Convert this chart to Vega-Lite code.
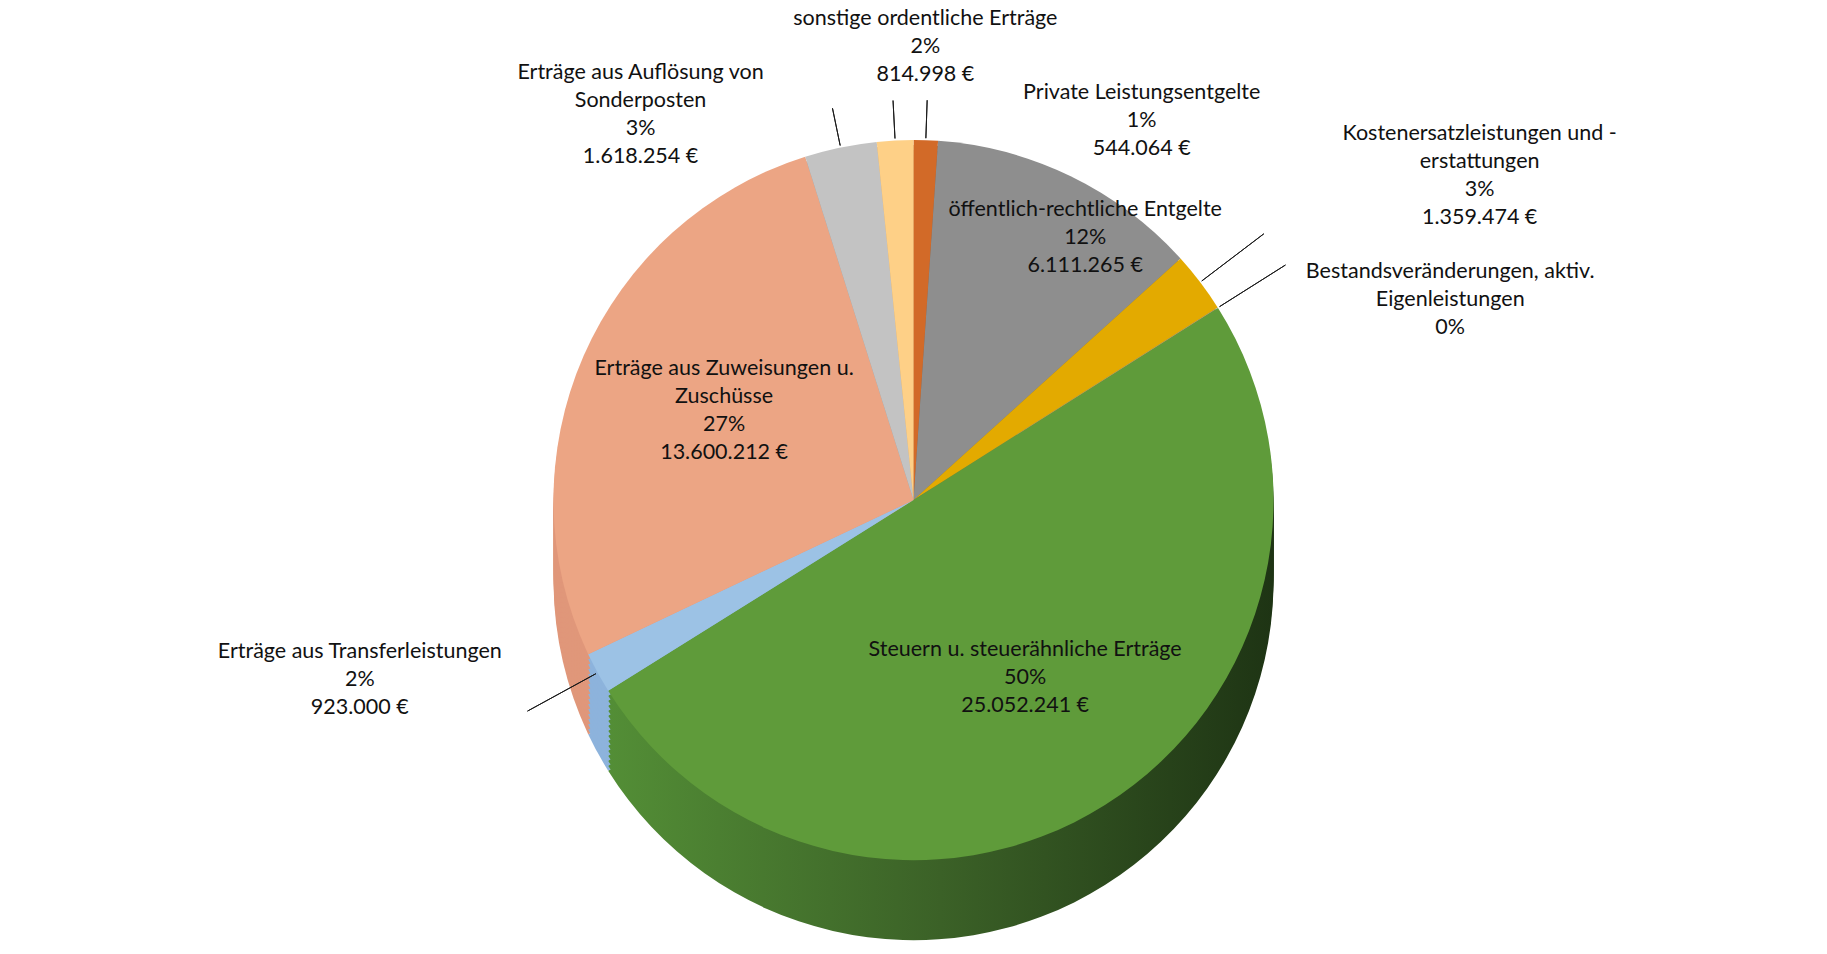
{
  "$schema": "https://vega.github.io/schema/vega-lite/v6.json",
  "width": 1827,
  "height": 908,
  "autosize": {"type": "none"},
  "padding": {"top": 46, "left": 0, "right": 0, "bottom": 0},
  "background": "#ffffff",
  "config": {"view": {"stroke": null}, "text": {"font": "Lato", "fontSize": 21.5, "lineHeight": 28, "lineBreak": "\n", "align": "center", "baseline": "middle", "color": "#111111"}},
  "data": {
    "values": [
      {"idx": 1, "cat": "Private Leistungsentgelte", "value": 544064, "label": "Private Leistungsentgelte\n1%\n544.064 €"},
      {"idx": 2, "cat": "öffentlich-rechtliche Entgelte", "value": 6111265, "label": "öffentlich-rechtliche Entgelte\n12%\n6.111.265 €"},
      {"idx": 3, "cat": "Kostenersatzleistungen und -erstattungen", "value": 1359474, "label": "Kostenersatzleistungen und -\nerstattungen\n3%\n1.359.474 €"},
      {"idx": 4, "cat": "Bestandsveränderungen, aktiv. Eigenleistungen", "value": 15000, "label": "Bestandsveränderungen, aktiv.\nEigenleistungen\n0%"},
      {"idx": 5, "cat": "Steuern u. steuerähnliche Erträge", "value": 25052241, "label": "Steuern u. steuerähnliche Erträge\n50%\n25.052.241 €"},
      {"idx": 6, "cat": "Erträge aus Transferleistungen", "value": 923000, "label": "Erträge aus Transferleistungen\n2%\n923.000 €"},
      {"idx": 7, "cat": "Erträge aus Zuweisungen u. Zuschüsse", "value": 13600212, "label": "Erträge aus Zuweisungen u.\nZuschüsse\n27%\n13.600.212 €"},
      {"idx": 8, "cat": "Erträge aus Auflösung von Sonderposten", "value": 1618254, "label": "Erträge aus Auflösung von\nSonderposten\n3%\n1.618.254 €"},
      {"idx": 9, "cat": "sonstige ordentliche Erträge", "value": 814998, "label": "sonstige ordentliche Erträge\n2%\n814.998 €"}
    ]
  },
  "encoding": {
    "theta": {"field": "value", "type": "quantitative", "stack": true},
    "order": {"field": "idx", "type": "quantitative"},
    "detail": {"field": "cat", "type": "nominal"}
  },
  "layer": [
    {
      "mark": {"type": "arc", "outerRadius": 360, "yOffset": 80, "strokeWidth": 0},
      "encoding": {
        "fill": {
          "field": "cat", "type": "nominal", "legend": null,
          "condition": {"test": "datum.idx === 5", "value": {"gradient": "linear", "x1": 0, "x2": 1, "y1": 0, "y2": 0, "stops": [{"offset": 0, "color": "#538E36"}, {"offset": 0.5, "color": "#3B6127"}, {"offset": 1, "color": "#1E3414"}]}},
          "scale": {
            "domain": ["Private Leistungsentgelte", "öffentlich-rechtliche Entgelte", "Kostenersatzleistungen und -erstattungen", "Bestandsveränderungen, aktiv. Eigenleistungen", "Steuern u. steuerähnliche Erträge", "Erträge aus Transferleistungen", "Erträge aus Zuweisungen u. Zuschüsse", "Erträge aus Auflösung von Sonderposten", "sonstige ordentliche Erträge"],
            "range": ["#A85420", "#6E6E6E", "#B38600", "#858585", "#3F6A27", "#8DB3DC", "#E0977A", "#9C9C9C", "#D9AE6E"]
          }
        }
      }
    },
    {"mark": {"type": "arc", "outerRadius": 360, "yOffset": 75, "strokeWidth": 0}, "encoding": {"fill": {"field": "cat", "type": "nominal", "legend": null, "condition": {"test": "datum.idx === 5", "value": {"gradient": "linear", "x1": 0, "x2": 1, "y1": 0, "y2": 0, "stops": [{"offset": 0, "color": "#538E36"}, {"offset": 0.5, "color": "#3B6127"}, {"offset": 1, "color": "#1E3414"}]}}}}},
    {"mark": {"type": "arc", "outerRadius": 360, "yOffset": 70, "strokeWidth": 0}, "encoding": {"fill": {"field": "cat", "type": "nominal", "legend": null, "condition": {"test": "datum.idx === 5", "value": {"gradient": "linear", "x1": 0, "x2": 1, "y1": 0, "y2": 0, "stops": [{"offset": 0, "color": "#538E36"}, {"offset": 0.5, "color": "#3B6127"}, {"offset": 1, "color": "#1E3414"}]}}}}},
    {"mark": {"type": "arc", "outerRadius": 360, "yOffset": 65, "strokeWidth": 0}, "encoding": {"fill": {"field": "cat", "type": "nominal", "legend": null, "condition": {"test": "datum.idx === 5", "value": {"gradient": "linear", "x1": 0, "x2": 1, "y1": 0, "y2": 0, "stops": [{"offset": 0, "color": "#538E36"}, {"offset": 0.5, "color": "#3B6127"}, {"offset": 1, "color": "#1E3414"}]}}}}},
    {"mark": {"type": "arc", "outerRadius": 360, "yOffset": 60, "strokeWidth": 0}, "encoding": {"fill": {"field": "cat", "type": "nominal", "legend": null, "condition": {"test": "datum.idx === 5", "value": {"gradient": "linear", "x1": 0, "x2": 1, "y1": 0, "y2": 0, "stops": [{"offset": 0, "color": "#538E36"}, {"offset": 0.5, "color": "#3B6127"}, {"offset": 1, "color": "#1E3414"}]}}}}},
    {"mark": {"type": "arc", "outerRadius": 360, "yOffset": 55, "strokeWidth": 0}, "encoding": {"fill": {"field": "cat", "type": "nominal", "legend": null, "condition": {"test": "datum.idx === 5", "value": {"gradient": "linear", "x1": 0, "x2": 1, "y1": 0, "y2": 0, "stops": [{"offset": 0, "color": "#538E36"}, {"offset": 0.5, "color": "#3B6127"}, {"offset": 1, "color": "#1E3414"}]}}}}},
    {"mark": {"type": "arc", "outerRadius": 360, "yOffset": 50, "strokeWidth": 0}, "encoding": {"fill": {"field": "cat", "type": "nominal", "legend": null, "condition": {"test": "datum.idx === 5", "value": {"gradient": "linear", "x1": 0, "x2": 1, "y1": 0, "y2": 0, "stops": [{"offset": 0, "color": "#538E36"}, {"offset": 0.5, "color": "#3B6127"}, {"offset": 1, "color": "#1E3414"}]}}}}},
    {"mark": {"type": "arc", "outerRadius": 360, "yOffset": 45, "strokeWidth": 0}, "encoding": {"fill": {"field": "cat", "type": "nominal", "legend": null, "condition": {"test": "datum.idx === 5", "value": {"gradient": "linear", "x1": 0, "x2": 1, "y1": 0, "y2": 0, "stops": [{"offset": 0, "color": "#538E36"}, {"offset": 0.5, "color": "#3B6127"}, {"offset": 1, "color": "#1E3414"}]}}}}},
    {"mark": {"type": "arc", "outerRadius": 360, "yOffset": 40, "strokeWidth": 0}, "encoding": {"fill": {"field": "cat", "type": "nominal", "legend": null, "condition": {"test": "datum.idx === 5", "value": {"gradient": "linear", "x1": 0, "x2": 1, "y1": 0, "y2": 0, "stops": [{"offset": 0, "color": "#538E36"}, {"offset": 0.5, "color": "#3B6127"}, {"offset": 1, "color": "#1E3414"}]}}}}},
    {"mark": {"type": "arc", "outerRadius": 360, "yOffset": 35, "strokeWidth": 0}, "encoding": {"fill": {"field": "cat", "type": "nominal", "legend": null, "condition": {"test": "datum.idx === 5", "value": {"gradient": "linear", "x1": 0, "x2": 1, "y1": 0, "y2": 0, "stops": [{"offset": 0, "color": "#538E36"}, {"offset": 0.5, "color": "#3B6127"}, {"offset": 1, "color": "#1E3414"}]}}}}},
    {"mark": {"type": "arc", "outerRadius": 360, "yOffset": 30, "strokeWidth": 0}, "encoding": {"fill": {"field": "cat", "type": "nominal", "legend": null, "condition": {"test": "datum.idx === 5", "value": {"gradient": "linear", "x1": 0, "x2": 1, "y1": 0, "y2": 0, "stops": [{"offset": 0, "color": "#538E36"}, {"offset": 0.5, "color": "#3B6127"}, {"offset": 1, "color": "#1E3414"}]}}}}},
    {"mark": {"type": "arc", "outerRadius": 360, "yOffset": 25, "strokeWidth": 0}, "encoding": {"fill": {"field": "cat", "type": "nominal", "legend": null, "condition": {"test": "datum.idx === 5", "value": {"gradient": "linear", "x1": 0, "x2": 1, "y1": 0, "y2": 0, "stops": [{"offset": 0, "color": "#538E36"}, {"offset": 0.5, "color": "#3B6127"}, {"offset": 1, "color": "#1E3414"}]}}}}},
    {"mark": {"type": "arc", "outerRadius": 360, "yOffset": 20, "strokeWidth": 0}, "encoding": {"fill": {"field": "cat", "type": "nominal", "legend": null, "condition": {"test": "datum.idx === 5", "value": {"gradient": "linear", "x1": 0, "x2": 1, "y1": 0, "y2": 0, "stops": [{"offset": 0, "color": "#538E36"}, {"offset": 0.5, "color": "#3B6127"}, {"offset": 1, "color": "#1E3414"}]}}}}},
    {"mark": {"type": "arc", "outerRadius": 360, "yOffset": 15, "strokeWidth": 0}, "encoding": {"fill": {"field": "cat", "type": "nominal", "legend": null, "condition": {"test": "datum.idx === 5", "value": {"gradient": "linear", "x1": 0, "x2": 1, "y1": 0, "y2": 0, "stops": [{"offset": 0, "color": "#538E36"}, {"offset": 0.5, "color": "#3B6127"}, {"offset": 1, "color": "#1E3414"}]}}}}},
    {"mark": {"type": "arc", "outerRadius": 360, "yOffset": 10, "strokeWidth": 0}, "encoding": {"fill": {"field": "cat", "type": "nominal", "legend": null, "condition": {"test": "datum.idx === 5", "value": {"gradient": "linear", "x1": 0, "x2": 1, "y1": 0, "y2": 0, "stops": [{"offset": 0, "color": "#538E36"}, {"offset": 0.5, "color": "#3B6127"}, {"offset": 1, "color": "#1E3414"}]}}}}},
    {"mark": {"type": "arc", "outerRadius": 360, "yOffset": 5, "strokeWidth": 0}, "encoding": {"fill": {"field": "cat", "type": "nominal", "legend": null, "condition": {"test": "datum.idx === 5", "value": {"gradient": "linear", "x1": 0, "x2": 1, "y1": 0, "y2": 0, "stops": [{"offset": 0, "color": "#538E36"}, {"offset": 0.5, "color": "#3B6127"}, {"offset": 1, "color": "#1E3414"}]}}}}},
    {
      "mark": {"type": "arc", "outerRadius": 360, "strokeWidth": 0},
      "encoding": {
        "color": {
          "field": "cat", "type": "nominal", "legend": null,
          "scale": {
            "domain": ["Private Leistungsentgelte", "öffentlich-rechtliche Entgelte", "Kostenersatzleistungen und -erstattungen", "Bestandsveränderungen, aktiv. Eigenleistungen", "Steuern u. steuerähnliche Erträge", "Erträge aus Transferleistungen", "Erträge aus Zuweisungen u. Zuschüsse", "Erträge aus Auflösung von Sonderposten", "sonstige ordentliche Erträge"],
            "range": ["#D26A28", "#8E8E8E", "#E3AA00", "#A5A5A5", "#5F9B3A", "#9CC2E5", "#ECA584", "#C3C3C3", "#FED087"]
          }
        }
      }
    },
    {
      "mark": {"type": "arc", "innerRadius": 362, "outerRadius": 400, "padAngle": 3.1416, "filled": false, "strokeWidth": 1},
      "encoding": {"stroke": {"condition": {"test": "datum.idx === 1 || datum.idx === 8 || datum.idx === 9", "value": "#1a1a1a"}, "value": null}}
    },
    {
      "mark": {"type": "arc", "innerRadius": 362, "outerRadius": 440, "padAngle": 3.1416, "filled": false, "strokeWidth": 1},
      "encoding": {"stroke": {"condition": {"test": "datum.idx === 3 || datum.idx === 4 || datum.idx === 6", "value": "#1a1a1a"}, "value": null}}
    },
    {
      "mark": {"type": "text", "radius": 452, "dx": 35, "dy": -30},
      "encoding": {"text": {"condition": {"test": "datum.idx === 9", "field": "label", "type": "nominal"}, "value": ""}}
    },
    {
      "mark": {"type": "text", "radius": 387, "dx": 215, "dy": -20},
      "encoding": {"text": {"condition": {"test": "datum.idx === 1", "field": "label", "type": "nominal"}, "value": ""}}
    },
    {
      "mark": {"type": "text", "radius": 449, "dx": -182, "dy": 13},
      "encoding": {"text": {"condition": {"test": "datum.idx === 8", "field": "label", "type": "nominal"}, "value": ""}}
    },
    {
      "mark": {"type": "text", "radius": 500, "dx": 168, "dy": -64},
      "encoding": {"text": {"condition": {"test": "datum.idx === 3", "field": "label", "type": "nominal"}, "value": ""}}
    },
    {
      "mark": {"type": "text", "radius": 500, "dx": 114, "dy": 39},
      "encoding": {"text": {"condition": {"test": "datum.idx === 4", "field": "label", "type": "nominal"}, "value": ""}}
    },
    {
      "mark": {"type": "text", "radius": 500, "dx": -115, "dy": -88},
      "encoding": {"text": {"condition": {"test": "datum.idx === 6", "field": "label", "type": "nominal"}, "value": ""}}
    },
    {
      "mark": {"type": "text", "radius": 265, "dx": 56, "dy": -52},
      "encoding": {"text": {"condition": {"test": "datum.idx === 2", "field": "label", "type": "nominal"}, "value": ""}}
    },
    {
      "mark": {"type": "text", "radius": 223, "dx": 15, "dy": -42},
      "encoding": {"text": {"condition": {"test": "datum.idx === 7", "field": "label", "type": "nominal"}, "value": ""}}
    },
    {
      "mark": {"type": "text", "radius": 210, "dy": -28},
      "encoding": {"text": {"condition": {"test": "datum.idx === 5", "field": "label", "type": "nominal"}, "value": ""}}
    }
  ]
}
